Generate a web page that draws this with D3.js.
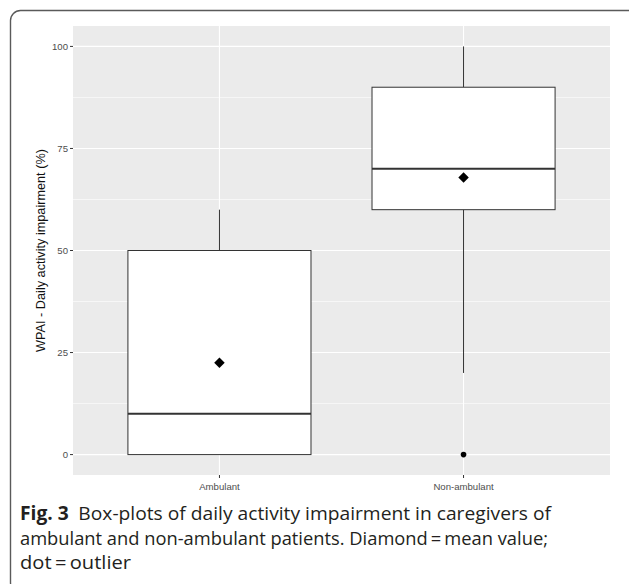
<!DOCTYPE html>
<html>
<head>
<meta charset="utf-8">
<script src="https://cdn.jsdelivr.net/npm/d3@7"></script>
<style>
  html, body { margin: 0; padding: 0; background: #fff; }
  svg { display: block; }
</style>
</head>
<body>
<svg id="chart" width="629" height="584"></svg>
<script>
// ---- data ----
const categories = ["Ambulant", "Non-ambulant"];
const q1Values      = [0, 60];
const medianValues  = [10, 70];
const q3Values      = [50, 90];
const whiskerLow    = [0, 20];
const whiskerHigh   = [60, 100];
const meanValues    = [22.5, 67.9];
const outlierValues = [[], [0]];
const yTicks = [0, 25, 50, 75, 100];
const yMinorTicks = [12.5, 37.5, 62.5, 87.5];
const yTitle = "WPAI - Daily activity impairment (%)";
const captionLines = [
  {bold: "Fig. 3", text: "Box-plots of daily activity impairment in caregivers of"},
  {bold: "", text: "ambulant and non-ambulant patients. Diamond\u2009=\u2009mean value;"},
  {bold: "", text: "dot\u2009=\u2009outlier"}
];

const svg = d3.select("#chart");

// outer rounded frame
svg.append("rect")
  .attr("x", 10.5).attr("y", 10.5)
  .attr("width", 628).attr("height", 582)
  .attr("rx", 10).attr("ry", 10)
  .attr("fill", "none").attr("stroke", "#5a5a5a").attr("stroke-width", 1.4);

const panel = {left: 73, right: 610, top: 26, bottom: 475};

const y = d3.scaleLinear().domain([-5, 105]).range([panel.bottom, panel.top]);
// ggplot discrete: positions at 1,2 with limits 0.4..2.6
const x = d3.scaleLinear().domain([0.4, 2.6]).range([panel.left, panel.right]);
const cx = c => x(categories.indexOf(c) + 1);
const boxW = x(0.75) - x(0);

// panel background
svg.append("rect")
  .attr("x", panel.left).attr("y", panel.top)
  .attr("width", panel.right - panel.left).attr("height", panel.bottom - panel.top)
  .attr("fill", "#EBEBEB");

const grid = svg.append("g");
grid.selectAll("line.minor").data(yMinorTicks).join("line")
  .attr("x1", panel.left).attr("x2", panel.right)
  .attr("y1", d => y(d)).attr("y2", d => y(d))
  .attr("stroke", "#fff").attr("stroke-width", 0.6);
grid.selectAll("line.major").data(yTicks).join("line")
  .attr("x1", panel.left).attr("x2", panel.right)
  .attr("y1", d => y(d)).attr("y2", d => y(d))
  .attr("stroke", "#fff").attr("stroke-width", 1.1);
grid.selectAll("line.vx").data(categories).join("line")
  .attr("x1", d => cx(d)).attr("x2", d => cx(d))
  .attr("y1", panel.top).attr("y2", panel.bottom)
  .attr("stroke", "#fff").attr("stroke-width", 1.1);

// boxes
const boxes = svg.append("g").selectAll("g").data(categories).join("g");
boxes.append("line")
  .attr("x1", d => cx(d)).attr("x2", d => cx(d))
  .attr("y1", (d, i) => y(q3Values[i])).attr("y2", (d, i) => y(whiskerHigh[i]))
  .attr("stroke", "#333").attr("stroke-width", 1);
boxes.append("line")
  .attr("x1", d => cx(d)).attr("x2", d => cx(d))
  .attr("y1", (d, i) => y(q1Values[i])).attr("y2", (d, i) => y(whiskerLow[i]))
  .attr("stroke", "#333").attr("stroke-width", 1);
boxes.append("rect")
  .attr("x", d => cx(d) - boxW / 2).attr("width", boxW)
  .attr("y", (d, i) => y(q3Values[i]))
  .attr("height", (d, i) => y(q1Values[i]) - y(q3Values[i]))
  .attr("fill", "#fff").attr("stroke", "#333").attr("stroke-width", 1);
boxes.append("line")
  .attr("x1", d => cx(d) - boxW / 2).attr("x2", d => cx(d) + boxW / 2)
  .attr("y1", (d, i) => y(medianValues[i])).attr("y2", (d, i) => y(medianValues[i]))
  .attr("stroke", "#333").attr("stroke-width", 2);
// outliers
boxes.each(function(d, i) {
  d3.select(this).selectAll("circle").data(outlierValues[i]).join("circle")
    .attr("cx", cx(d)).attr("cy", v => y(v)).attr("r", 2.8).attr("fill", "#000");
});
// means (diamonds)
const diamond = d3.symbol().type(d3.symbolDiamond2).size(70);
boxes.append("path")
  .attr("d", diamond)
  .attr("transform", (d, i) => `translate(${cx(d)},${y(meanValues[i])})`)
  .attr("fill", "#000");

// y axis ticks & labels
const yAx = svg.append("g");
yAx.selectAll("line").data(yTicks).join("line")
  .attr("x1", panel.left - 3).attr("x2", panel.left)
  .attr("y1", d => y(d)).attr("y2", d => y(d))
  .attr("stroke", "#333").attr("stroke-width", 1);
yAx.selectAll("text").data(yTicks).join("text")
  .attr("x", panel.left - 5).attr("y", d => y(d)).attr("dy", "0.35em")
  .attr("text-anchor", "end")
  .attr("font-family", "Liberation Sans, Arial, sans-serif")
  .attr("font-size", 9.6).attr("fill", "#4D4D4D")
  .text(d => d);

// x axis ticks & labels
const xAx = svg.append("g");
xAx.selectAll("line").data(categories).join("line")
  .attr("x1", d => cx(d)).attr("x2", d => cx(d))
  .attr("y1", panel.bottom).attr("y2", panel.bottom + 3)
  .attr("stroke", "#333").attr("stroke-width", 1);
xAx.selectAll("text").data(categories).join("text")
  .attr("x", d => cx(d)).attr("y", panel.bottom + 15)
  .attr("text-anchor", "middle")
  .attr("font-family", "Liberation Sans, Arial, sans-serif")
  .attr("font-size", 9.6).attr("fill", "#4D4D4D")
  .text(d => d);

// y title
svg.append("text")
  .attr("transform", `translate(45,${(panel.top + panel.bottom) / 2}) rotate(-90)`)
  .attr("text-anchor", "middle")
  .attr("font-family", "Liberation Sans, Arial, sans-serif")
  .attr("font-size", 12.7).attr("fill", "#111")
  .text(yTitle);

// caption
const capW = [531, 528, 111];
const cap = svg.append("g");
captionLines.forEach((ln, i) => {
  const t = cap.append("text")
    .attr("x", 20).attr("y", 520 + i * 24.5)
    .attr("font-family", "Open Sans, Noto Sans, sans-serif")
    .attr("font-size", 19).attr("fill", "#231F20")
    .attr("textLength", capW[i]).attr("lengthAdjust", "spacingAndGlyphs");
  if (ln.bold) {
    t.append("tspan").attr("font-weight", "bold").text(ln.bold);
    t.append("tspan").text("\u2002" + ln.text);
  } else {
    t.text(ln.text);
  }
});
</script>
</body>
</html>
